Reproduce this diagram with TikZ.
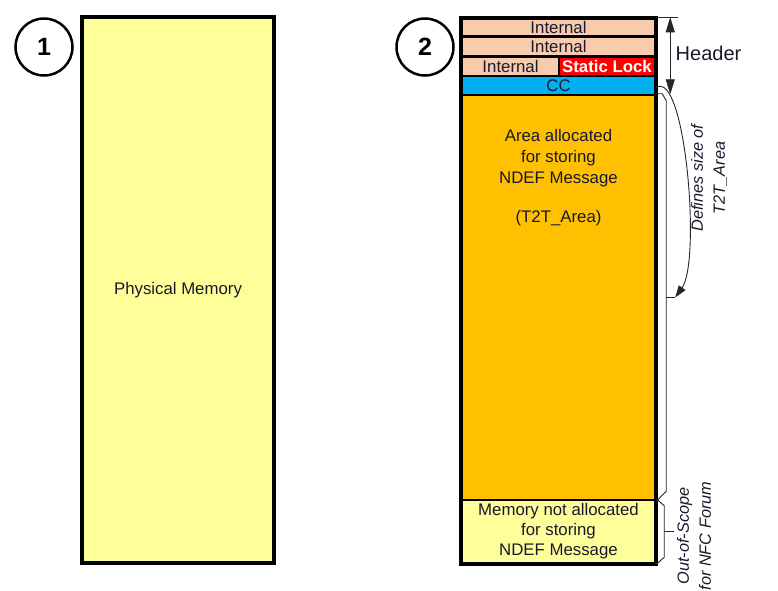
\documentclass[tikz,border=0pt]{standalone}
\usepackage{fontspec}
\setmainfont{Liberation Sans}
\usepackage{xcolor}
\usepackage{tikz}
\usetikzlibrary{positioning, arrows.meta}

\definecolor{peach}{RGB}{248,203,173}
\definecolor{ccblue}{RGB}{0,176,240}
\definecolor{areaorange}{RGB}{255,192,0}
\definecolor{memyellow}{RGB}{255,255,153}
\definecolor{lockred}{RGB}{255,0,0}
\definecolor{inkdark}{RGB}{25,25,45}

\begin{document}
\begin{tikzpicture}[x=1pt, y=-1pt,
    cell/.style={draw, line width=2.5pt, inner sep=0pt, text=inkdark, align=center, font=\fontsize{16.8}{21}\selectfont},
    num/.style={draw, circle, line width=2.5pt, minimum size=57pt, inner sep=0pt, font=\fontsize{25}{25}\selectfont\bfseries},
    brace/.style={draw=black!85, line width=0.9pt},
    side/.style={rotate=90, align=center, text=inkdark, font=\fontsize{16.3}{22}\selectfont\itshape}]
      \useasboundingbox (0,0) rectangle (778,590);

      % Physical memory
      \node[num] (n1) at (44,47) {1};
      \node[cell, fill=memyellow, line width=3.5pt, minimum width=192pt, minimum height=546pt] (phys) at (178,290) {Physical Memory};

      % Tag memory layout
      \node[num] (n2) at (425,47) {2};
      \node[cell, fill=peach, minimum width=193pt, minimum height=18pt] (int1) at (558.5,27.5) {Internal};
      \node[cell, fill=peach, minimum width=193pt, minimum height=20pt] (int2) at (558.5,46.5) {Internal};
      \node[cell, fill=peach, minimum width=97pt, minimum height=20pt] (int3) at (510.5,66.5) {Internal};
      \node[cell, fill=lockred, text=white, minimum width=96pt, minimum height=20pt, font=\fontsize{16.8}{21}\selectfont\bfseries] (lock) at (607,66.5) {Static Lock};
      \node[cell, fill=ccblue, minimum width=193pt, minimum height=19pt] (cc) at (558.5,85.5) {CC};
      \node[cell, fill=areaorange, minimum width=193pt, minimum height=405pt] (area) at (558.5,297.5) {};
      \node[cell, fill=memyellow, minimum width=193pt, minimum height=63pt, font=\fontsize{16.8}{20}\selectfont] (free) at (558.5,531.5) {Memory not allocated\\for storing\\NDEF Message};
      \node[cell, draw=none, anchor=north] (areatxt) at (558.5,128) {Area allocated\\for storing\\NDEF Message\\[18pt](T2T\_Area)};
      \draw[line width=3.5pt] (int1.north west) rectangle (free.south east);

      % Header span
      \draw[brace] (int1.north east) -- ++(22,0);
      \draw[brace, {Triangle[length=15pt,width=9pt]}-{Triangle[length=15pt,width=9pt]}] ([xshift=14pt]int1.north east) -- ([xshift=14pt, yshift=2pt]cc.south east);
      \node[text=inkdark, font=\fontsize{20}{20}\selectfont] (hdr) at (708.5,53) {Header};

      % Braces on the right
      \coordinate (areatip) at ([xshift=19pt]area.east);
      \draw[brace] (area.north east) -- ++(6,0) -- ++(4,7) -- ([xshift=10pt, yshift=10pt]area.south east) -- (area.south east);
      \draw[brace] ([xshift=10pt]area.east) -- (areatip);
      \draw[brace] (free.north east) -- ++(8,7) -- ([xshift=8pt, yshift=7pt]free.south east) -- (free.south east);
      \draw[brace] ([xshift=8pt]free.east) -- ++(10,0);

      % CC defines the area
      \draw[brace, -{Triangle[length=12pt,width=8pt]}] ([yshift=-2pt]cc.east) .. controls +(29,-18) and +(26,-37) .. (areatip);

      \node[side] (defs) at (709,178) {Defines size of\\T2T\_Area};
      \node[side] (oos) at (694,536) {Out-of-Scope\\for NFC Forum};
    \end{tikzpicture}
\end{document}
